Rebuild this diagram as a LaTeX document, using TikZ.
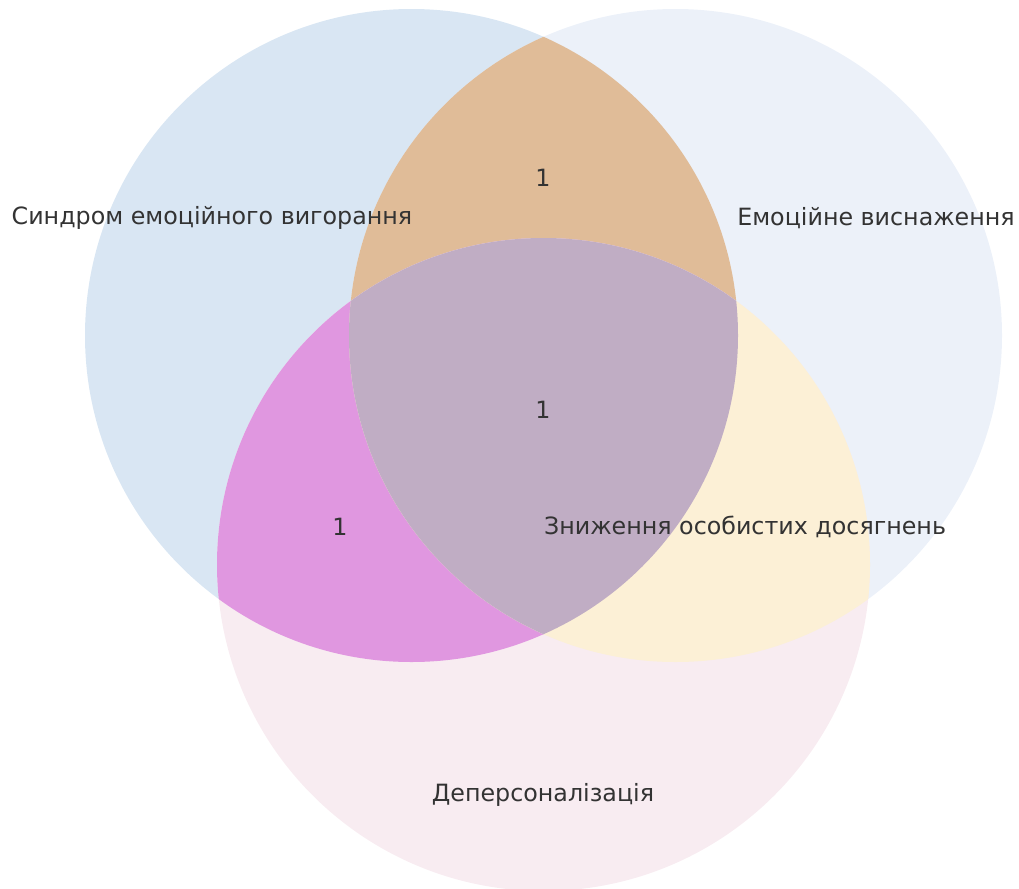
\documentclass[tikz,border=0pt]{standalone}
\usepackage{fontspec}
\setmainfont{DejaVu Sans}
\usepackage{xcolor}
\usepackage{tikz}
\usetikzlibrary{positioning,calc}

\definecolor{aonly}{HTML}{D9E6F3}
\definecolor{bonly}{HTML}{ECF1F9}
\definecolor{conly}{HTML}{F8ECF1}
\definecolor{abcol}{HTML}{E0BC98}
\definecolor{accol}{HTML}{E097E0}
\definecolor{bccol}{HTML}{FCF0D6}
\definecolor{abccol}{HTML}{C0ADC4}
\definecolor{txt}{HTML}{333333}

\tikzset{
    lbl/.style={text=txt, font=\fontsize{16.9}{19}\selectfont, inner sep=0pt},
}

\begin{document}
\begin{tikzpicture}[x=0.025cm, y=-0.025cm]
    \useasboundingbox (0,0) rectangle (1019,888);

    % circle centres
    \coordinate (ca) at (411.5,335.5);
    \coordinate (cb) at (675.5,335.5);
    \coordinate (cc) at (543.5,564.5);
    \def\rad{326.5}

    % single sets
    \fill[aonly] (ca) circle (\rad);
    \fill[bonly] (cb) circle (\rad);
    \fill[conly] (cc) circle (\rad);

    % pairs
    \begin{scope}
        \clip (ca) circle (\rad);
        \fill[abcol] (cb) circle (\rad);
        \fill[accol] (cc) circle (\rad);
    \end{scope}
    \begin{scope}
        \clip (cb) circle (\rad);
        \fill[bccol] (cc) circle (\rad);
    \end{scope}

    % all three
    \begin{scope}
        \clip (ca) circle (\rad);
        \clip (cb) circle (\rad);
        \fill[abccol] (cc) circle (\rad);
    \end{scope}

    % set labels
    \node[lbl] (seta) at (212,218) {Синдром емоційного вигорання};
    \node[lbl] (setb) at (876,218) {Емоційне виснаження};
    \node[lbl] (setc) at (745,527) {Зниження особистих досягнень};
    \node[lbl] (setd) at (543,795) {Деперсоналізація};

    % counts
    \node[lbl] (nab) at (543,178) {1};
    \node[lbl] (nabc) at (543,410) {1};
    \node[lbl] (nac) at (340,527) {1};
\end{tikzpicture}
\end{document}
